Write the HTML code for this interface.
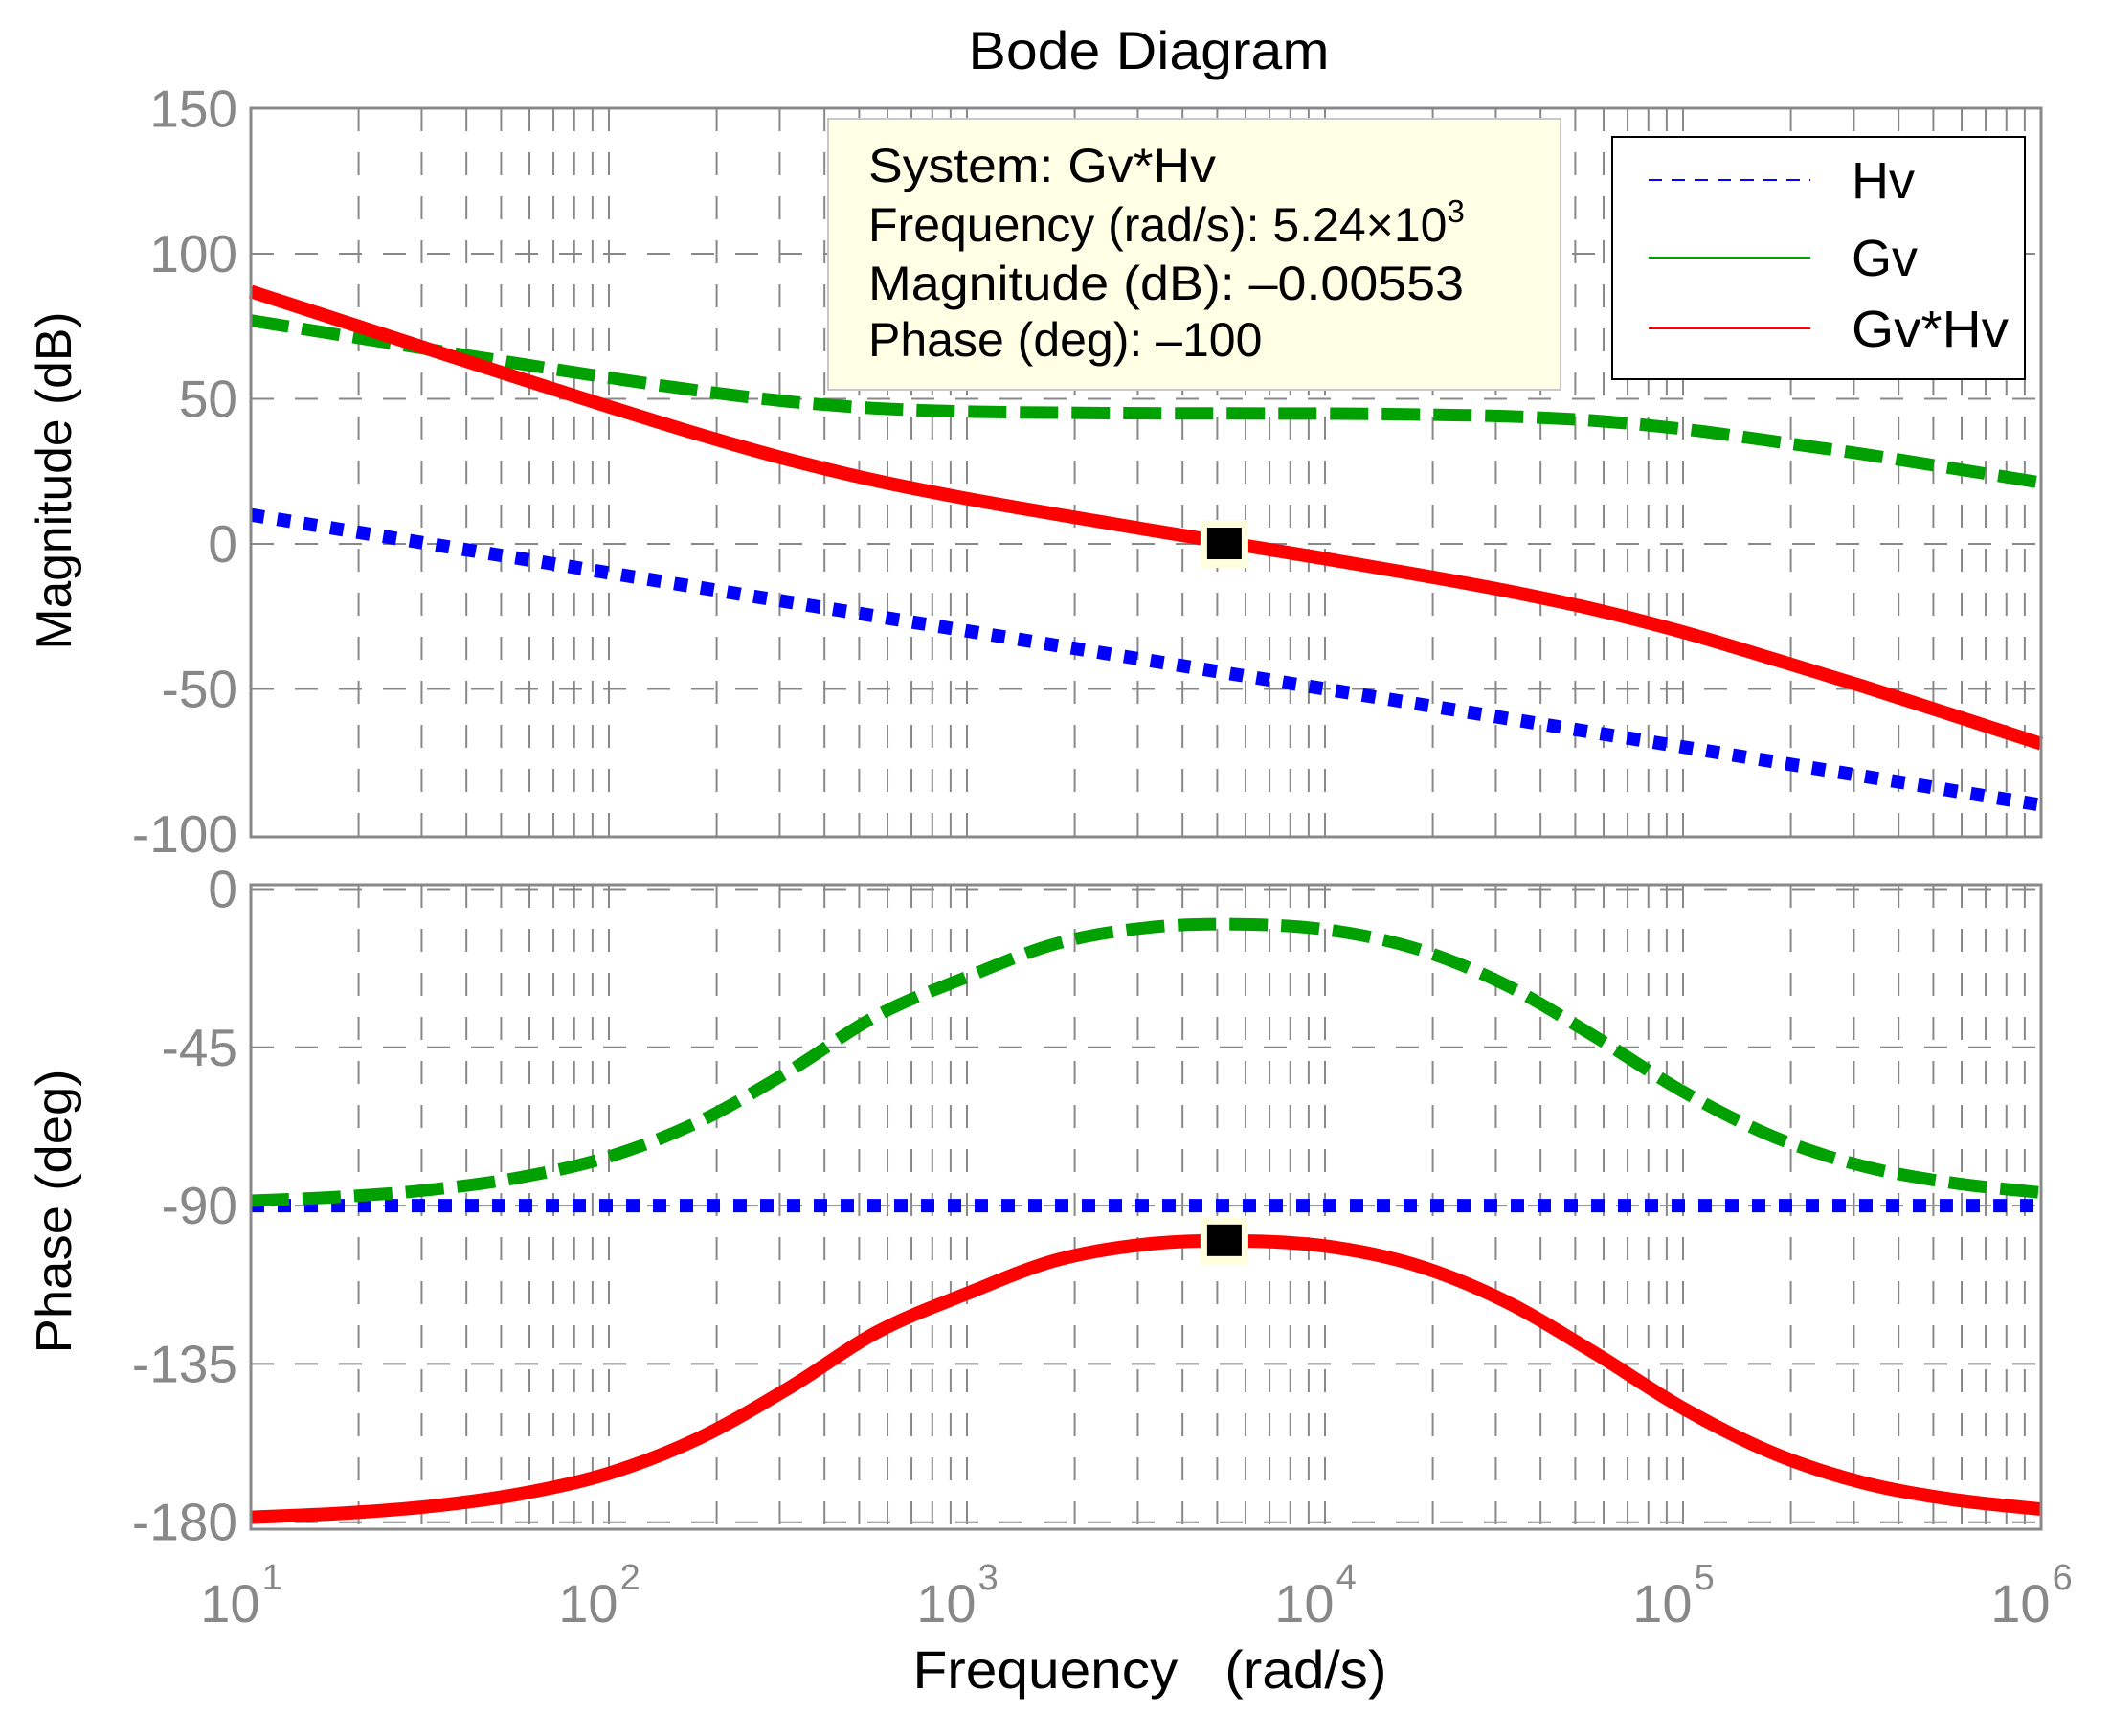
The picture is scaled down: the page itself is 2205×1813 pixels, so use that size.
<!DOCTYPE html>
<html><head><meta charset="utf-8"><style>
body{margin:0;background:#fff}
svg{display:block}
text{font-family:"Liberation Sans",Arial,sans-serif}
</style></head><body>
<svg id="chart" width="2205" height="1813" viewBox="0 0 2205 1813" xmlns="http://www.w3.org/2000/svg">
<rect width="2205" height="1813" fill="#fff"/>
<text x="1200" y="72" font-size="56" text-anchor="middle" fill="#000" textLength="377" lengthAdjust="spacingAndGlyphs">Bode Diagram</text>
<g id="grid"></g>
<g id="series"></g>
<g id="axes"></g>
<text transform="translate(74,502) rotate(-90)" font-size="52" text-anchor="middle" fill="#000" textLength="353" lengthAdjust="spacingAndGlyphs">Magnitude (dB)</text>
<text transform="translate(74,1265) rotate(-90)" font-size="52" text-anchor="middle" fill="#000" textLength="297" lengthAdjust="spacingAndGlyphs">Phase (deg)</text>
<text x="1201" y="1763" font-size="56" text-anchor="middle" fill="#000" xml:space="preserve" textLength="495" lengthAdjust="spacingAndGlyphs">Frequency   (rad/s)</text>
<g>
<rect x="865" y="124" width="765" height="283" fill="#ffffe6" stroke="#c8c8c8" stroke-width="2"/>
<text x="907" y="190" font-size="50" fill="#000" textLength="363" lengthAdjust="spacingAndGlyphs">System: Gv*Hv</text>
<text x="907" y="252" font-size="50" fill="#000">Frequency (rad/s): 5.24×10<tspan dy="-20" font-size="33">3</tspan></text>
<text x="907" y="313" font-size="50" fill="#000" textLength="622" lengthAdjust="spacingAndGlyphs">Magnitude (dB): –0.00553</text>
<text x="907" y="372" font-size="50" fill="#000">Phase (deg): –100</text>
</g>
<g>
<rect x="1684" y="143" width="431" height="253" fill="#fff" stroke="#000" stroke-width="2"/>
<g><line x1="1722" y1="188" x2="1891" y2="188" stroke="#0000ff" stroke-width="2" stroke-dasharray="14 10"/><text x="1934" y="207" font-size="54">Hv</text></g>
<g><line x1="1722" y1="269" x2="1891" y2="269" stroke="#00a000" stroke-width="2"/><text x="1934" y="288" font-size="54">Gv</text></g>
<g><line x1="1722" y1="343" x2="1891" y2="343" stroke="#ff0000" stroke-width="2"/><text x="1934" y="362" font-size="54" textLength="164" lengthAdjust="spacingAndGlyphs">Gv*Hv</text></g>
</g>
</svg>
<script>
const freqExp=[1,1.25,1.5,1.75,2,2.25,2.5,2.75,3,3.25,3.5,3.75,4,4.25,4.5,4.75,5,5.25,5.5,5.75,6];
const hvMag=[10,5,0,-5,-10,-15,-20,-25,-30,-35,-40,-45,-50,-55,-60,-65,-70,-75,-80,-85,-90];
const gvMag=[77,72,67,62.1,57.3,52.8,49.1,46.7,45.6,45.2,45,44.95,44.9,44.6,44,42.5,39.6,35.4,31,26.1,21.1];
const gvhvMag=[87,77,67,57.1,47.3,37.8,29.1,21.7,15.6,10.2,5,-0.05,-5.1,-10.4,-16,-22.5,-30.4,-39.6,-49,-58.9,-68.9];
const hvPhase=[-90,-90,-90,-90,-90,-90,-90,-90,-90,-90,-90,-90,-90,-90,-90,-90,-90,-90,-90,-90,-90];
const gvPhase=[-88.6,-87.5,-85.5,-82,-76.1,-66.2,-52,-35.9,-25,-15.5,-11,-10,-11.5,-16.8,-27,-41.7,-57.6,-70.3,-78.7,-83.5,-86.3];
const gvhvPhase=[-178.6,-177.5,-175.5,-172,-166.1,-156.2,-142,-125.9,-115,-105.5,-101,-100,-101.5,-106.8,-117,-131.7,-147.6,-160.3,-168.7,-173.5,-176.3];
const magTicks=[150,100,50,0,-50,-100];
const phaseTicks=[0,-45,-90,-135,-180];
const xTickExp=[1,2,3,4,5,6];
const markerExp=[3.719];
const markerMag=[-0.00553];
const markerPhase=[-100];

const NS="http://www.w3.org/2000/svg";
const L=262,R=2132;
const x=e=>L+(e-1)*(R-L)/5;
const yM=v=>568-(v)*151.5/50;
const yP=v=>928.5-(v)*165.3/45;
const MT=113,MB=874,PT=924,PB=1597;
function mk(tag,attrs,parent){const el=document.createElementNS(NS,tag);for(const k in attrs)el.setAttribute(k,attrs[k]);parent.appendChild(el);return el;}
const grid=document.getElementById('grid'),axes=document.getElementById('axes'),series=document.getElementById('series');
const gstyle={stroke:"#888","stroke-width":2,"stroke-dasharray":"24 22",fill:"none"};
[[MT,MB],[PT,PB]].forEach(([t,b],pi)=>{
  for(let d=1;d<6;d++){for(let m=1;m<10;m++){const xx=x(d+Math.log10(m));if(m===1&&d===1)continue;
    const ln=mk('line',Object.assign({x1:xx,x2:xx,y1:t,y2:b},gstyle),grid);
    
    }}
});
magTicks.forEach(v=>{const y=yM(v);
  if(v<150&&v>-100){const ln=mk('line',Object.assign({x1:L,x2:R,y1:y,y2:y},gstyle),grid);
  
  }
  const t=mk('text',{x:L-14,y:y+19,'font-size':55,'text-anchor':'end',fill:'#888'},axes);t.textContent=v;
  
  
});
phaseTicks.forEach(v=>{const y=yP(v);
  const ln=mk('line',Object.assign({x1:L,x2:R,y1:y,y2:y},gstyle),grid);
  
  
  const t=mk('text',{x:L-14,y:y+19,'font-size':55,'text-anchor':'end',fill:'#888'},axes);t.textContent=v;
  
  
});
xTickExp.forEach(e=>{const t=mk('text',{x:x(e)-10,y:1694,'font-size':56,'text-anchor':'middle',fill:'#888'},axes);
  t.textContent='10';
  
  
  const s=mk('tspan',{dx:2,dy:-34,'font-size':38},t);s.textContent=e;});
[[MT,MB],[PT,PB]].forEach(([t,b])=>{const r=mk('rect',{x:L,y:t,width:R-L,height:b-t,fill:'none',stroke:'#888','stroke-width':3},axes);
  
  });
function path(vals,yf){const p=freqExp.map((e,i)=>[x(e),yf(vals[i])]);
  let d=`M${p[0][0]},${p[0][1]}`;
  for(let i=0;i<p.length-1;i++){const p0=p[Math.max(0,i-1)],p1=p[i],p2=p[i+1],p3=p[Math.min(p.length-1,i+2)];
    d+=` C${p1[0]+(p2[0]-p0[0])/6},${p1[1]+(p2[1]-p0[1])/6} ${p2[0]-(p3[0]-p1[0])/6},${p2[1]-(p3[1]-p1[1])/6} ${p2[0]},${p2[1]}`;}
  return d;}
const hvS={stroke:'#0000ff','stroke-width':14,'stroke-dasharray':'14 14',fill:'none'};
const gvS={stroke:'#00a000','stroke-width':13,'stroke-dasharray':'40 14',fill:'none'};
const rS={stroke:'#ff0000','stroke-width':14,fill:'none','stroke-linejoin':'round'};
let el;
el=mk('path',Object.assign({d:path(hvMag,yM)},hvS),series);


el=mk('path',Object.assign({d:path(gvMag,yM)},gvS),series);


el=mk('path',Object.assign({d:path(gvhvMag,yM)},rS),series);


el=mk('path',Object.assign({d:path(hvPhase,yP)},hvS),series);


el=mk('path',Object.assign({d:path(gvPhase,yP)},gvS),series);


el=mk('path',Object.assign({d:path(gvhvPhase,yP)},rS),series);


[[markerMag[0],yM],[markerPhase[0],yP]].forEach(([v,yf])=>{const cx=x(markerExp[0]),cy=yf(v);
  const h=mk('rect',{x:cx-25,y:cy-25,width:50,height:50,fill:'#ffffe0'},series);
  
  
  const m=mk('rect',{x:cx-18,y:cy-17,width:36,height:33,fill:'#000'},series);
  
  });
</script>
</body></html>
